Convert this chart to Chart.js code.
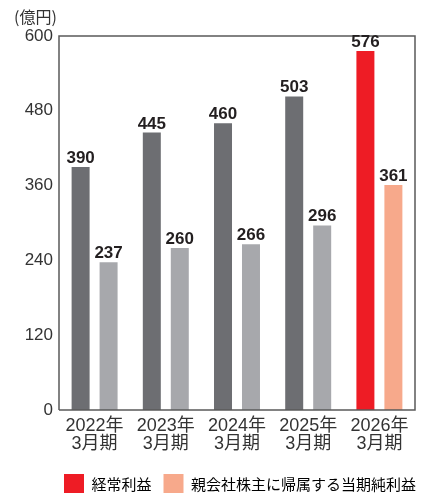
<!DOCTYPE html>
<html><head><meta charset="utf-8">
<script src="https://cdn.jsdelivr.net/npm/chart.js@4/dist/chart.umd.min.js"></script>
<style>html,body{margin:0;padding:0;background:#fff}#wrap{width:432px;height:493px;position:relative}</style>
</head><body><div id="wrap"><canvas id="c" width="432" height="493"></canvas></div>
<script>
const categories = [["2022年","3月期"],["2023年","3月期"],["2024年","3月期"],["2025年","3月期"],["2026年","3月期"]];
const ordinaryProfit = [390, 445, 460, 503, 576];
const netProfit = [237, 260, 266, 296, 361];
const seriesNames = ["経常利益", "親会社株主に帰属する当期純利益"];
const yTicks = [0, 120, 240, 360, 480, 600];
const unitLabel = "(億円)";

const FONT = "'Liberation Sans', 'Noto Sans CJK JP', sans-serif";
const darkGray = '#6d6e72', lightGray = '#a7a8ac', red = '#ee1c25', salmon = '#f7a98b';
const n = categories.length;
const c1 = ordinaryProfit.map((v,i)=> i===n-1 ? red : darkGray);
const c2 = netProfit.map((v,i)=> i===n-1 ? salmon : lightGray);

const framePlugin = {
  id:'frame',
  afterLayout(chart){
    if (chart.legend) { chart.legend.left += 13; chart.legend.right += 13; }
  },
  afterDatasetsDraw(chart){
    const {ctx, chartArea:a} = chart;
    ctx.save();
    ctx.strokeStyle = '#5a5a5a'; ctx.lineWidth = 1.5;
    ctx.beginPath();
    ctx.moveTo(a.left, a.bottom); ctx.lineTo(a.left, a.top); ctx.lineTo(a.right, a.top); ctx.lineTo(a.right, a.bottom); ctx.lineTo(a.left, a.bottom);
    ctx.stroke();
    ctx.fillStyle = '#231f20';
    ctx.font = "bold 17px 'Liberation Sans', Arial, sans-serif";
    ctx.textAlign = 'center'; ctx.textBaseline = 'alphabetic';
    chart.data.datasets.forEach((ds, di)=>{
      chart.getDatasetMeta(di).data.forEach((bar, i)=>{
        ctx.fillText(String(ds.data[i]), bar.x, bar.y - 4);
      });
    });
    ctx.font = "16px 'Noto Sans CJK JP', sans-serif";
    ctx.fillStyle = '#333';
    ctx.textAlign = 'left'; ctx.textBaseline = 'middle';
    ctx.fillText(unitLabel, 14, 17);
    ctx.restore();
  }
};

new Chart(document.getElementById('c'), {
  type:'bar',
  data:{
    labels: categories,
    datasets:[
      {label: seriesNames[0], data: ordinaryProfit, backgroundColor: c1},
      {label: seriesNames[1], data: netProfit, backgroundColor: c2}
    ]
  },
  options:{
    responsive:false, animation:false,
    layout:{padding:{top:36, right:17, left:0, bottom:-11}},
    datasets:{bar:{categoryPercentage:0.786, barPercentage:0.643}},
    plugins:{
      tooltip:{enabled:false},
      legend:{
        position:'bottom', align:'end',
        labels:{
          font:{family:"'Noto Sans CJK JP', sans-serif", size:15},
          color:'#231f20',
          boxWidth:20, boxHeight:20, padding:12,
          generateLabels(){
            return [
              {text: seriesNames[0], fillStyle: red, strokeStyle: red, lineWidth:0, hidden:false, datasetIndex:0},
              {text: seriesNames[1], fillStyle: salmon, strokeStyle: salmon, lineWidth:0, hidden:false, datasetIndex:1}
            ];
          }
        }
      }
    },
    scales:{
      x:{
        grid:{display:false, drawTicks:false},
        border:{display:false},
        ticks:{font:{family:FONT, size:18, lineHeight:1.0}, color:'#333', padding:7, maxRotation:0, autoSkip:false},
        afterFit(s){ s.height = 52; }
      },
      y:{
        min:0, max:600,
        afterBuildTicks(s){ s.ticks = yTicks.map(v=>({value:v})); },
        grid:{display:false, drawTicks:false},
        border:{display:false},
        ticks:{font:{family:FONT, size:17}, color:'#333', padding:6},
        afterFit(s){ s.width = 59; }
      }
    }
  },
  plugins:[framePlugin]
});
</script></body></html>
